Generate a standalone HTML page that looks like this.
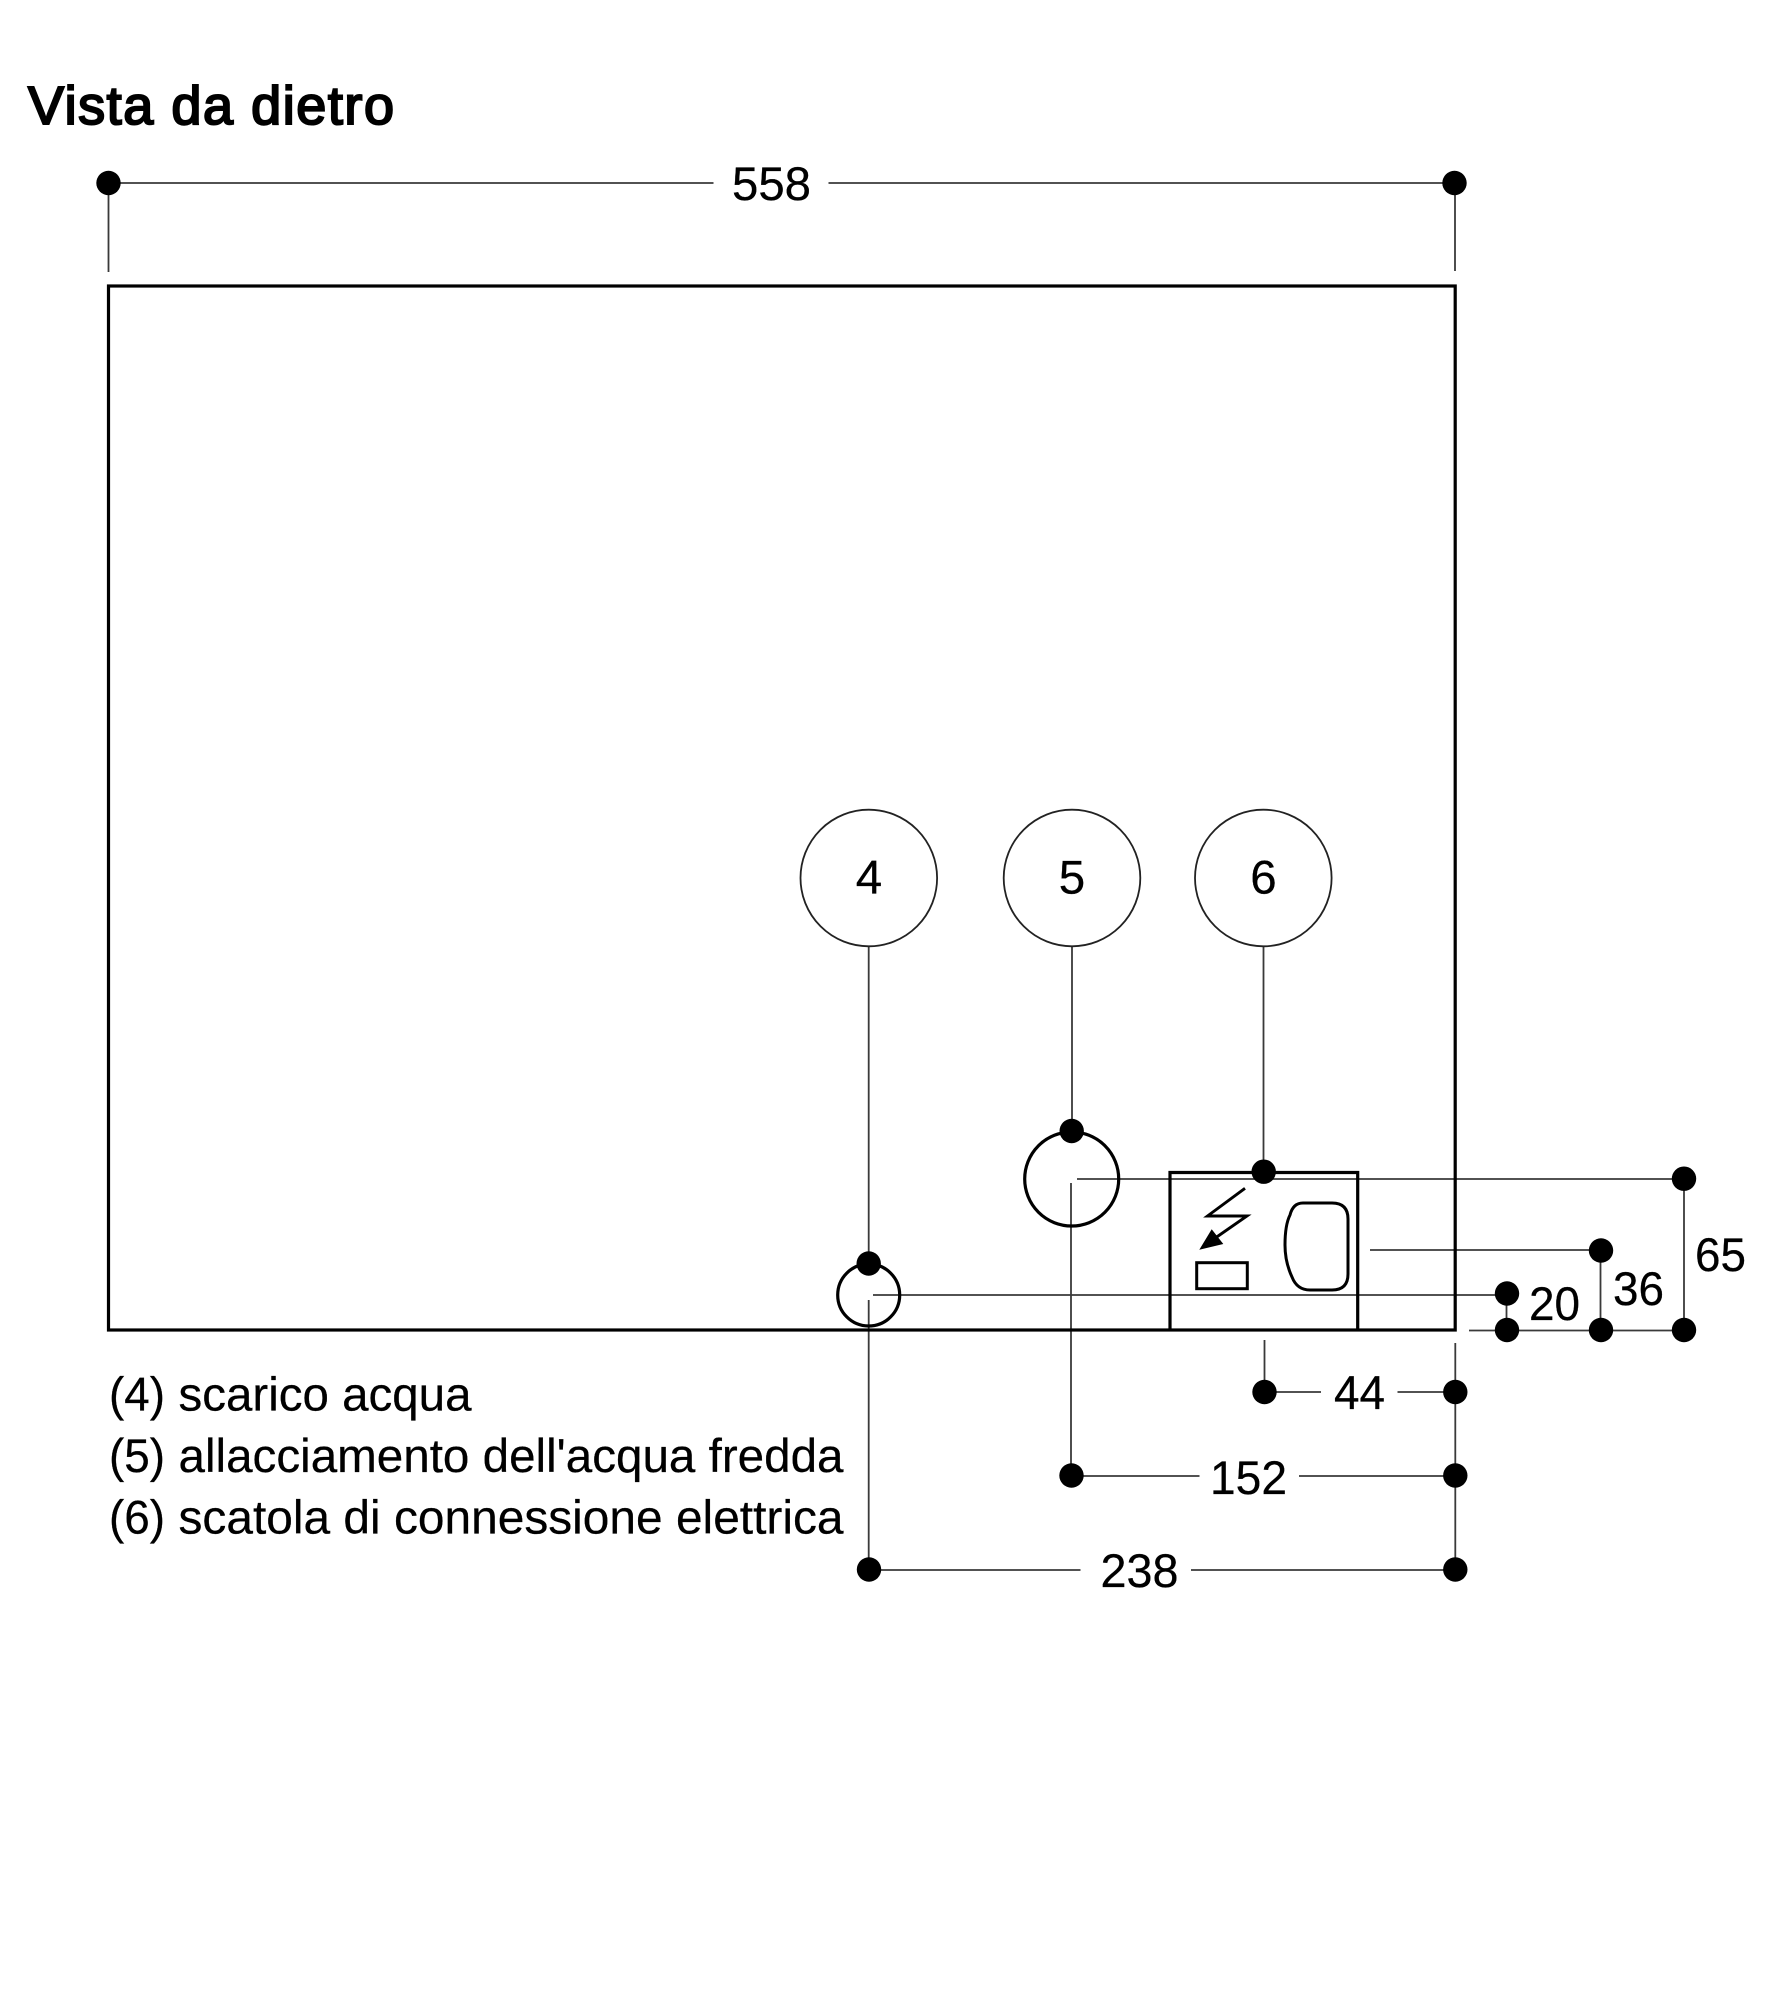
<!DOCTYPE html>
<html lang="it">
<head>
<meta charset="utf-8">
<title>Vista da dietro</title>
<style>
html,body{margin:0;padding:0;background:#fff;}
svg{display:block;}
text{font-family:"Liberation Sans",Arial,sans-serif;fill:#000;}
.t{font-size:47.5px;stroke:#000;stroke-width:.25px;}
.l{fill:none;stroke:#3a3a3a;stroke-width:1.8;}
.h{fill:none;stroke:#000;stroke-width:3.2;}
.d{fill:#000;stroke:none;}
.title{font-size:54px;stroke:#000;stroke-width:2.1px;}
</style>
</head>
<body>
<svg width="1774" height="2000" viewBox="0 0 1774 2000" xmlns="http://www.w3.org/2000/svg">
<rect width="1774" height="2000" fill="#fff"/>
<text class="title" x="28" y="124" textLength="366" lengthAdjust="spacing">Vista da dietro</text>

<!-- thin dimension lines -->
<path class="l" d="M108.5 183H713.5M828.5 183H1455M108.5 183V272M1455 183V271"/>
<path class="l" d="M868.7 946V1263M1072 946V1131M1263.5 946V1172"/>
<path class="l" d="M1077 1179H1684M873 1295H1507M1370 1250H1601M1469 1330.5H1684"/>
<path class="l" d="M1506.5 1293V1330M1600.5 1250V1330M1684 1179V1330"/>
<path class="l" d="M1071 1183V1476M868.7 1300V1570M1264.5 1340V1392M1455.3 1343V1570"/>
<path class="l" d="M1264.5 1392H1321M1397.5 1392H1455M1071.5 1476H1199.5M1299 1476H1455M869 1570H1080.5M1191 1570H1455"/>

<!-- heavy outlines -->
<rect class="h" x="108.5" y="286" width="1346.7" height="1044"/>
<circle class="h" cx="1071.7" cy="1179" r="47"/>
<circle class="h" cx="868.7" cy="1295" r="31"/>
<path class="h" d="M1170 1330V1172.5H1357.7V1330"/>
<path fill="none" stroke="#000" stroke-width="2.9" d="M1245 1188.3L1207.5 1216H1247L1216.7 1237"/>
<path class="d" d="M1199.3 1249.7L1211.7 1229.3L1223.3 1244Z"/>
<rect fill="none" stroke="#000" stroke-width="3" x="1196.7" y="1262.7" width="50.6" height="26"/>
<path fill="none" stroke="#000" stroke-width="3" d="M1303 1203H1332Q1348 1203 1348 1219V1274Q1348 1290 1332 1290H1310Q1297 1290 1292 1277Q1285 1262 1285 1245Q1285 1225 1290 1215Q1293 1203 1303 1203Z"/>

<!-- callout circles -->
<g fill="#fff" stroke="#222" stroke-width="1.8">
<circle cx="868.8" cy="878" r="68.3"/>
<circle cx="1072" cy="878" r="68.3"/>
<circle cx="1263.3" cy="878" r="68.3"/>
</g>
<text class="t" x="869" y="893.5" text-anchor="middle">4</text>
<text class="t" x="1072" y="893.5" text-anchor="middle">5</text>
<text class="t" x="1263.5" y="893.5" text-anchor="middle">6</text>

<!-- dots -->
<g class="d">
<circle cx="108.5" cy="183" r="12.2"/>
<circle cx="1454.5" cy="183" r="12.2"/>
<circle cx="1071.7" cy="1131" r="12.2"/>
<circle cx="1263.7" cy="1171.7" r="12.2"/>
<circle cx="868.7" cy="1263.5" r="12.2"/>
<circle cx="1684" cy="1178.7" r="12.2"/>
<circle cx="1601" cy="1250.5" r="12.2"/>
<circle cx="1507" cy="1293.5" r="12.2"/>
<circle cx="1507" cy="1330" r="12.2"/>
<circle cx="1601" cy="1330" r="12.2"/>
<circle cx="1684" cy="1330" r="12.2"/>
<circle cx="1264.5" cy="1392" r="12.2"/>
<circle cx="1455.3" cy="1392" r="12.2"/>
<circle cx="1071.5" cy="1475.5" r="12.2"/>
<circle cx="1455.3" cy="1475.5" r="12.2"/>
<circle cx="869" cy="1569.5" r="12.2"/>
<circle cx="1455.3" cy="1569.5" r="12.2"/>
</g>

<!-- dimension labels -->
<text class="t" x="732" y="200" textLength="79" lengthAdjust="spacingAndGlyphs">558</text>
<text class="t" x="1695" y="1271" textLength="51" lengthAdjust="spacingAndGlyphs">65</text>
<text class="t" x="1613" y="1305" textLength="51" lengthAdjust="spacingAndGlyphs">36</text>
<text class="t" x="1529" y="1320" textLength="51" lengthAdjust="spacingAndGlyphs">20</text>
<text class="t" x="1334" y="1409" textLength="51" lengthAdjust="spacingAndGlyphs">44</text>
<text class="t" x="1210" y="1494" textLength="77" lengthAdjust="spacingAndGlyphs">152</text>
<text class="t" x="1100.5" y="1587" textLength="78" lengthAdjust="spacingAndGlyphs">238</text>

<!-- legend -->
<text class="t" x="109" y="1410.5" textLength="56" lengthAdjust="spacingAndGlyphs">(4)</text>
<text class="t" x="178.5" y="1410.5" textLength="293" lengthAdjust="spacingAndGlyphs">scarico acqua</text>
<text class="t" x="109" y="1472" textLength="56" lengthAdjust="spacingAndGlyphs">(5)</text>
<text class="t" x="178.5" y="1472" textLength="665" lengthAdjust="spacingAndGlyphs">allacciamento dell'acqua fredda</text>
<text class="t" x="109" y="1533.5" textLength="56" lengthAdjust="spacingAndGlyphs">(6)</text>
<text class="t" x="178.5" y="1533.5" textLength="665" lengthAdjust="spacingAndGlyphs">scatola di connessione elettrica</text>
</svg>
</body>
</html>
